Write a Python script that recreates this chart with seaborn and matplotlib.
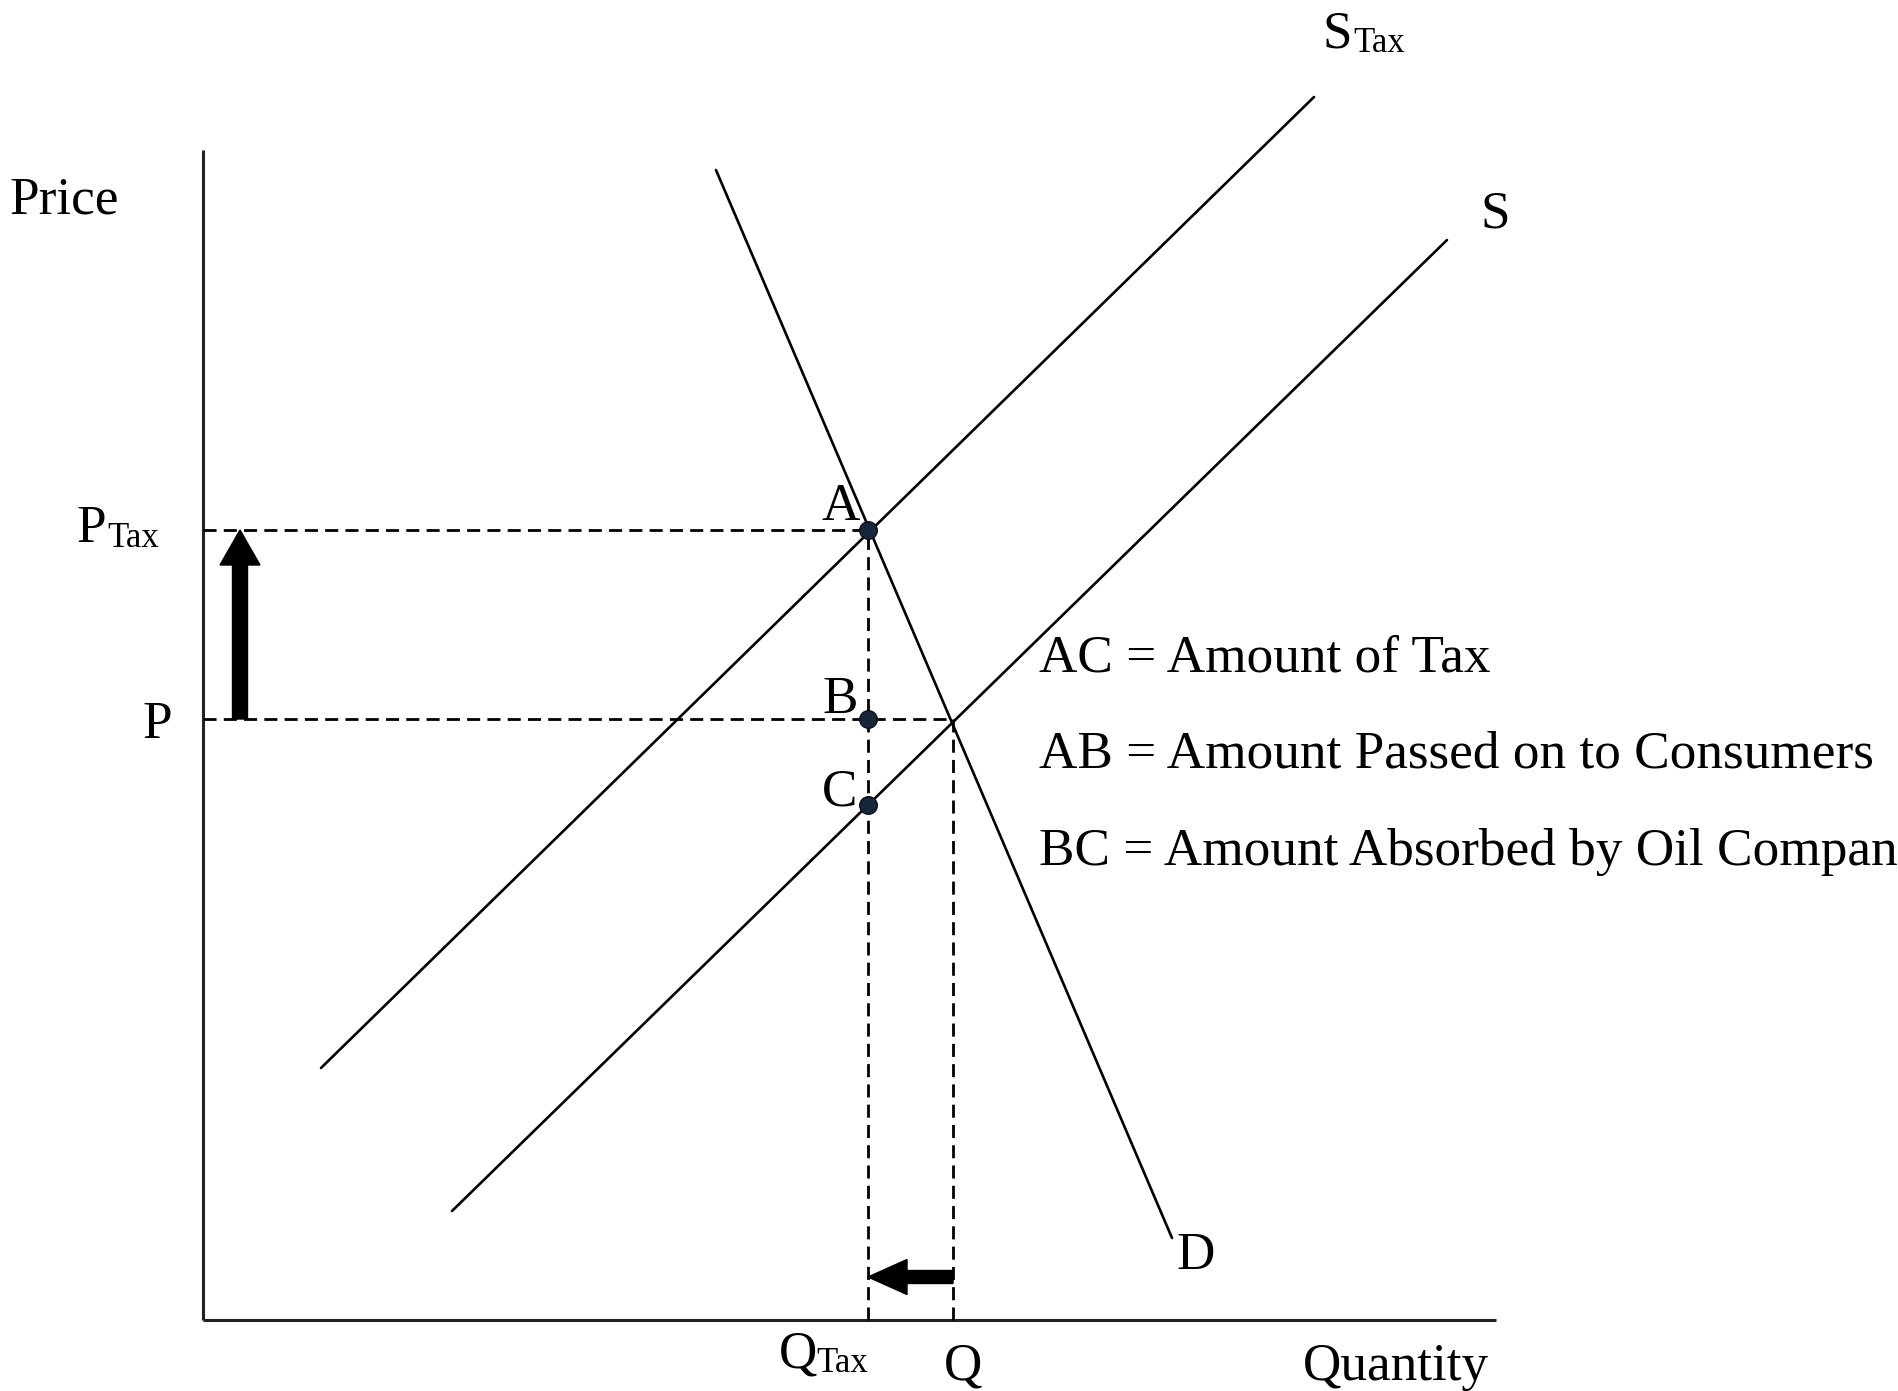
import matplotlib
matplotlib.use("Agg")
import matplotlib.pyplot as plt
import seaborn as sns
import pandas as pd

# ---- Data (quantity / price units, axis origin at 0,0) ----
s_q = [24.9, 124.4]
s_p = [10.9, 108.0]
stax_q = [11.8, 111.1]
stax_p = [25.2, 122.3]
d_q = [51.3, 96.9]
d_p = [115.0, 8.2]
axis_q_max = 129.3
axis_p_max = 117.0
q_tax = 66.5
q_eq = 75.0
p_tax = 79.0
p_eq = 60.1
p_c = 51.5
point_labels = ["A", "B", "C"]
point_q = [q_tax, q_tax, q_tax]
point_p = [p_tax, p_eq, p_c]
notes = ["AC = Amount of Tax",
         "AB = Amount Passed on to Consumers",
         "BC = Amount Absorbed by Oil Companies"]

sns.set_theme(style="white")
plt.rcParams['font.family'] = ['Liberation Serif', 'DejaVu Serif']

fig = plt.figure(figsize=(18.99, 13.91), dpi=100)
ax = fig.add_axes([0, 0, 1, 1])
ax.set_xlim(-20.3, 169.6)
ax.set_ylim(-7.1, 132.0)
ax.axis('off')

# axes
ax.plot([0, 0], [0, axis_p_max], color='#222222', lw=2.2, solid_capstyle='butt')
ax.plot([0, axis_q_max], [0, 0], color='#222222', lw=2.2, solid_capstyle='butt')

# curves
curves = pd.concat([
    pd.DataFrame({"q": s_q, "p": s_p, "curve": "S"}),
    pd.DataFrame({"q": stax_q, "p": stax_p, "curve": "STax"}),
    pd.DataFrame({"q": d_q, "p": d_p, "curve": "D"}),
])
for name, grp in curves.groupby("curve"):
    sns.lineplot(data=grp, x="q", y="p", ax=ax, color='black', lw=1.9,
                 estimator=None, sort=False, legend=False)

# dashed guides
dash = (0, (4.7, 2.6))
ax.plot([0, q_tax], [p_tax, p_tax], color='black', lw=2.0, linestyle=dash)
ax.plot([0, q_eq], [p_eq, p_eq], color='black', lw=2.0, linestyle=dash)
ax.plot([q_tax, q_tax], [0, p_tax], color='black', lw=2.0, linestyle=dash)
ax.plot([q_eq, q_eq], [0, p_eq], color='black', lw=2.0, linestyle=dash)

# points
pts = pd.DataFrame({"q": point_q, "p": point_p, "lab": point_labels})
sns.scatterplot(data=pts, x="q", y="p", ax=ax, s=160, color='#17273b',
                edgecolor='#0a0f18', linewidth=1.0, zorder=5, legend=False)
ax.set_xlabel("")
ax.set_ylabel("")

# arrows
ax.arrow(3.7, p_eq, 0, p_tax - p_eq, width=1.5, head_width=4.0, head_length=3.5,
         length_includes_head=True, color='black', zorder=4)
ax.arrow(q_eq, 4.3, q_tax - q_eq, 0, width=1.3, head_width=3.5, head_length=3.9,
         length_includes_head=True, color='black', zorder=4)

fs = 38.3
sub = 25
kw = dict(ha='left', va='baseline', color='black')
ax.text(-19.4, 110.7, "Price", fontsize=fs, **kw)
ax.text(-12.7, 77.8, "P", fontsize=fs, **kw)
ax.text(-9.6, 77.3, "Tax", fontsize=sub, **kw)
ax.text(-6.1, 58.2, "P", fontsize=fs, **kw)
ax.text(57.6, -4.7, "Q", fontsize=fs, **kw)
ax.text(61.3, -5.2, "Tax", fontsize=sub, **kw)
ax.text(74.1, -6.0, "Q", fontsize=fs, **kw)
ax.text(110.0, -6.0, "Quantity", fontsize=fs, **kw)
ax.text(97.3, 5.1, "D", fontsize=fs, **kw)
ax.text(127.7, 109.2, "S", fontsize=fs, **kw)
ax.text(112.0, 127.3, "S", fontsize=fs, **kw)
ax.text(115.0, 126.8, "Tax", fontsize=sub, **kw)
for lab, yb in zip(point_labels, [80.0, 60.7, 51.5]):
    ax.text(61.9, yb, lab, fontsize=fs, **kw)
for note, yb in zip(notes, [64.8, 55.2, 45.5]):
    ax.text(83.6, yb, note, fontsize=fs, **kw)

fig.savefig("out.png", dpi=100)
